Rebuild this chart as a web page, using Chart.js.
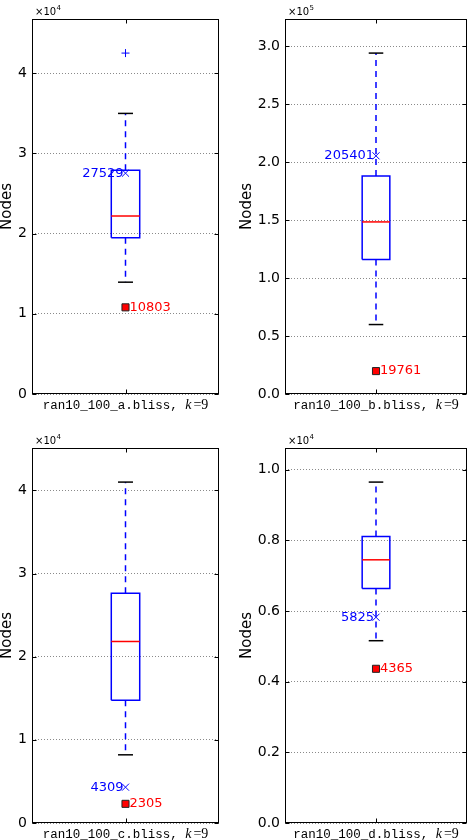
<!DOCTYPE html>
<html>
<head>
<meta charset="utf-8">
<script src="https://cdn.jsdelivr.net/npm/chart.js@4.4.1/dist/chart.umd.min.js"></script>
<style>
    body { margin: 0; background: #fff; }
    #figura { position: relative; width: 473px; height: 840px; }
    canvas { position: absolute; }
</style>
</head>
<body>
<div id="figura">
    <canvas id="g0" width="236" height="420" style="left:0px;top:0px"></canvas>
    <canvas id="g1" width="237" height="420" style="left:236px;top:0px"></canvas>
    <canvas id="g2" width="236" height="420" style="left:0px;top:420px"></canvas>
    <canvas id="g3" width="237" height="420" style="left:236px;top:420px"></canvas>
</div>
<script>

// ============================
// DATOS
// ============================

const instancias = ["ran10_100_a.bliss", "ran10_100_b.bliss", "ran10_100_c.bliss", "ran10_100_d.bliss"];
const valorK = 9;

const bigoteInf = [13940, 59900, 8200, 5160];
const cuartil1 = [19470, 116100, 14760, 6640];
const medianas = [22190, 148400, 21830, 7450];
const cuartil3 = [27900, 188100, 27620, 8110];
const bigoteSup = [34980, 294000, 41000, 9650];
const atipicos = [[42500], [], [], []];

const valoresCruz = [27529, 205401, 4309, 5825];       // marcador x azul
const valoresCuadro = [10803, 19761, 2305, 4365];      // cuadrado rojo

const ejeMax = [46750, 323400, 45100, 10615];
const pasoTicks = [10000, 50000, 10000, 2000];
const exponentes = [4, 5, 4, 4];
const decimales = [0, 1, 0, 1];


// ============================
// DISEÑO (posiciones, no datos)
// ============================

const marcos = [
    { anchoEje: 32, arriba: 19, derecha: 17, abajo: 26, padTitulo: 0 },
    { anchoEje: 49, arriba: 19, derecha: 5, abajo: 26, padTitulo: 4 },
    { anchoEje: 32, arriba: 28, derecha: 17, abajo: 17, padTitulo: 0 },
    { anchoEje: 49, arriba: 28, derecha: 5, abajo: 17, padTitulo: 4 }
];

const centro = 0.5;
const medioCaja = 0.076;
const medioTope = 0.04;
const AZUL = "#0000ff";
const ROJO = "#ff0000";


// ============================
// PLUGINS
// ============================

const pluginMarco = {
    id: "marco",
    afterDraw(chart, args, opts) {
        const { ctx, chartArea: a } = chart;
        const y = chart.scales.y;
        const l = Math.round(a.left) + 0.5;
        const r = Math.round(a.right) - 0.5;
        const t = Math.round(a.top) + 0.5;
        const b = Math.round(a.bottom) - 0.5;

        ctx.save();
        ctx.strokeStyle = "#000";
        ctx.lineWidth = 1;
        ctx.strokeRect(l, t, r - l, b - t);

        // ticks hacia dentro
        ctx.beginPath();
        y.ticks.forEach(tk => {
            const py = Math.round(y.getPixelForValue(tk.value)) + 0.5;
            ctx.moveTo(l, py); ctx.lineTo(l + 4, py);
            ctx.moveTo(r, py); ctx.lineTo(r - 4, py);
        });
        const cx = Math.round(chart.scales.x.getPixelForValue(centro)) + 0.5;
        ctx.moveTo(cx, b); ctx.lineTo(cx, b - 4);
        ctx.moveTo(cx, t); ctx.lineTo(cx, t + 4);
        ctx.stroke();

        // x10^n
        ctx.fillStyle = "#000";
        ctx.textBaseline = "alphabetic";
        ctx.textAlign = "left";
        ctx.font = "10px 'DejaVu Sans'";
        ctx.fillText("\u00d710", a.left + 3, a.top - 4);
        const w = ctx.measureText("\u00d710").width;
        ctx.font = "7px 'DejaVu Sans'";
        ctx.fillText(String(opts.exponente), a.left + 3 + w + 0.5, a.top - 9);

        // rótulo del eje x
        const mono = "12.5px 'Liberation Mono'";
        const ital = "italic 14px 'Liberation Serif'";
        const serif = "14px 'Liberation Serif'";
        const parte1 = opts.nombre + ", ";
        ctx.font = mono; const w1 = ctx.measureText(parte1).width;
        ctx.font = ital; const w2 = ctx.measureText("k").width;
        ctx.font = serif; const w3 = ctx.measureText("=" + opts.k).width;
        const gap = 2;
        let x0 = (a.left + a.right) / 2 - (w1 + w2 + gap + w3) / 2;
        const by = a.bottom + 15;
        ctx.font = mono; ctx.fillText(parte1, x0, by); x0 += w1;
        ctx.font = ital; ctx.fillText("k", x0, by); x0 += w2 + gap;
        ctx.font = serif; ctx.fillText("=" + opts.k, x0, by);
        ctx.restore();
    }
};

const pluginEtiquetas = {
    id: "etiquetas",
    afterDatasetsDraw(chart) {
        const ctx = chart.ctx;
        ctx.save();
        ctx.font = "13px 'DejaVu Sans'";
        ctx.textBaseline = "middle";
        chart.data.datasets.forEach((ds, i) => {
            if (!ds.etiqueta) return;
            const p = chart.getDatasetMeta(i).data[0];
            const izq = ds.etiqueta.lado === "izq";
            ctx.fillStyle = ds.etiqueta.color;
            ctx.textAlign = izq ? "right" : "left";
            ctx.fillText(ds.etiqueta.texto, p.x + (izq ? -2 : 4), p.y);
        });
        ctx.restore();
    }
};


// ============================
// GRÁFICAS
// ============================

function linea(puntos, color, extra) {
    return Object.assign({
        data: puntos,
        showLine: true,
        borderColor: color,
        borderWidth: 1.5,
        pointRadius: 0,
        fill: false,
        tension: 0
    }, extra || {});
}

function crearCaja(i) {

    const m = marcos[i];
    const esc = Math.pow(10, exponentes[i]);

    const datasets = [
        {
            data: [{ x: centro, y: valoresCuadro[i] }],
            pointStyle: "rect",
            pointRadius: 5,
            backgroundColor: ROJO,
            borderColor: "#222",
            borderWidth: 1,
            etiqueta: { texto: String(valoresCuadro[i]), lado: "der", color: ROJO }
        },
        {
            data: [{ x: centro, y: valoresCruz[i] }],
            pointStyle: "crossRot",
            pointRadius: 5,
            borderColor: AZUL,
            borderWidth: 1,
            etiqueta: { texto: String(valoresCruz[i]), lado: "izq", color: AZUL }
        },
        {
            data: atipicos[i].map(v => ({ x: centro, y: v })),
            pointStyle: "cross",
            pointRadius: 4,
            borderColor: AZUL,
            borderWidth: 1
        },
        linea([{ x: centro - medioCaja, y: medianas[i] }, { x: centro + medioCaja, y: medianas[i] }], ROJO),
        linea([{ x: centro - medioTope, y: bigoteSup[i] }, { x: centro + medioTope, y: bigoteSup[i] }], "#000"),
        linea([{ x: centro - medioTope, y: bigoteInf[i] }, { x: centro + medioTope, y: bigoteInf[i] }], "#000"),
        linea([
            { x: centro - medioCaja, y: cuartil1[i] },
            { x: centro + medioCaja, y: cuartil1[i] },
            { x: centro + medioCaja, y: cuartil3[i] },
            { x: centro - medioCaja, y: cuartil3[i] },
            { x: centro - medioCaja, y: cuartil1[i] }
        ], AZUL, { borderJoinStyle: "miter" }),
        linea([{ x: centro, y: cuartil3[i] }, { x: centro, y: bigoteSup[i] }], AZUL, { borderDash: [6, 5] }),
        linea([{ x: centro, y: cuartil1[i] }, { x: centro, y: bigoteInf[i] }], AZUL, { borderDash: [6, 5] })
    ];

    new Chart(document.getElementById("g" + i), {
        type: "scatter",
        data: { datasets },
        plugins: [pluginEtiquetas, pluginMarco],
        options: {
            responsive: false,
            animation: false,
            layout: { padding: { top: m.arriba, right: m.derecha, bottom: m.abajo, left: 0 } },
            plugins: {
                legend: { display: false },
                tooltip: { enabled: false },
                marco: { exponente: exponentes[i], nombre: instancias[i], k: valorK }
            },
            scales: {
                x: { type: "linear", min: 0, max: 1, display: false },
                y: {
                    min: 0,
                    max: ejeMax[i],
                    afterBuildTicks: s => {
                        const ticks = [];
                        for (let v = 0; v <= ejeMax[i]; v += pasoTicks[i]) ticks.push({ value: v });
                        s.ticks = ticks;
                    },
                    afterFit: s => { s.width = m.anchoEje; },
                    border: { display: false, dash: [1, 2] },
                    grid: { color: "#8a8a8a", drawTicks: false, lineWidth: 1 },
                    ticks: {
                        autoSkip: false,
                        padding: 5,
                        color: "#000",
                        font: { family: "DejaVu Sans", size: 14 },
                        callback: v => (v / esc).toFixed(decimales[i])
                    },
                    title: {
                        display: true,
                        text: "Nodes",
                        color: "#000",
                        padding: { top: m.padTitulo, bottom: 0 },
                        font: { family: "DejaVu Sans", size: 15, lineHeight: 1 }
                    }
                }
            }
        }
    });
}

document.addEventListener("DOMContentLoaded", () => {
    instancias.forEach((_, i) => crearCaja(i));
});
</script>
</body>
</html>
